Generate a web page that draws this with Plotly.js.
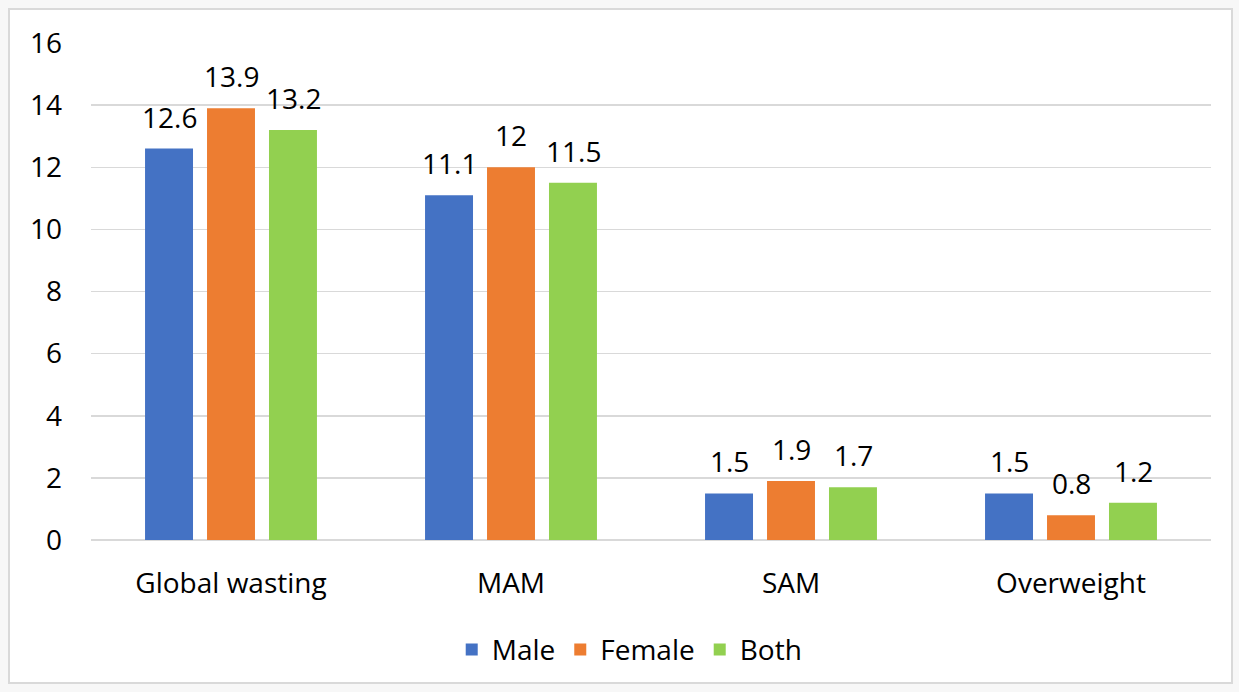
<!DOCTYPE html>
<html><head><meta charset="utf-8">
<script src="https://cdn.plot.ly/plotly-3.0.1.min.js"></script>
<style>
html,body{margin:0;padding:0;background:#f7f7f7;width:1239px;height:692px;overflow:hidden}
#chart{position:absolute;left:8px;top:8px;width:1221px;height:672px;border:2px solid #d9d9d9;background:#fff}
</style></head><body>
<div id="chart"></div>
<script>
const categories = ["Global wasting","MAM","SAM","Overweight"];
const male = [12.6, 11.1, 1.5, 1.5];
const female = [13.9, 12, 1.9, 0.8];
const both = [13.2, 11.5, 1.7, 1.2];
const seriesNames = ["Male","Female","Both"];
const colors = ["#4472C4","#ED7D31","#92D050"];
const font = {family:"Open Sans, sans-serif", size:28, color:"#000"};
const series = [male,female,both];
const traces = series.map((v,i)=>({
  type:"bar", x:categories, y:v, name:seriesNames[i],
  marker:{color:colors[i]}, hoverinfo:"none"
}));
const annotations = [];
series.forEach((v,i)=>{
  v.forEach((val,j)=>{
    annotations.push({x:categories[j], y:val, xref:"x", yref:"y", text:String(val),
      showarrow:false, yanchor:"bottom", xanchor:"center", xshift:(i-1)*62, yshift:11, font:font});
  });
});
const layout = {
  width:1221, height:672,
  margin:{l:81,r:20,t:33,b:142, autoexpand:false},
  paper_bgcolor:"#fff", plot_bgcolor:"#fff",
  barmode:"group", bargap:0.336, bargroupgap:0.226,
  font:font,
  showlegend:true,
  annotations:annotations,
  legend:{orientation:"h", x:0.481, xanchor:"center", y:-0.221, yanchor:"middle", font:font, traceorder:"normal"},
  xaxis:{showgrid:false, showline:false, ticks:"", tickfont:font, ticklabelstandoff:24, automargin:false},
  yaxis:{range:[0,16], dtick:2, gridcolor:"#d9d9d9", gridwidth:1.5, zeroline:true, zerolinecolor:"#d9d9d9", zerolinewidth:1.5, showline:false, ticks:"", tickfont:font, ticklabelstandoff:28, automargin:false}
};
Plotly.newPlot("chart", traces, layout, {displayModeBar:false, staticPlot:true});
</script>
</body></html>
